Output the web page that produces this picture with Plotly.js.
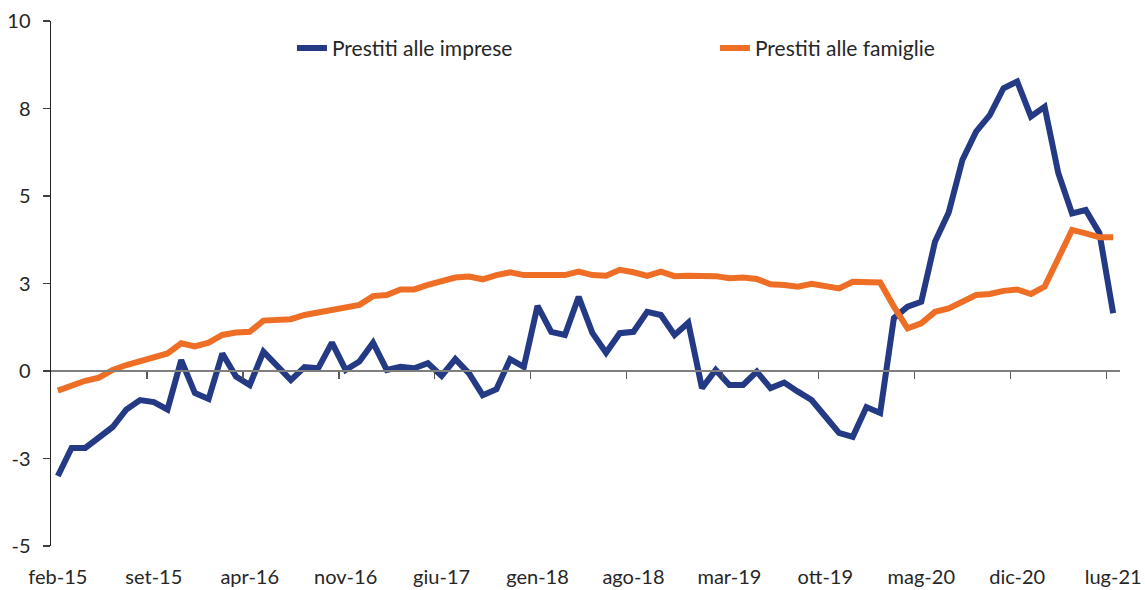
<!DOCTYPE html>
<html>
<head>
<meta charset="utf-8">
<script src="https://cdn.plot.ly/plotly-3.0.1.min.js"></script>
<style>
  html, body { margin: 0; padding: 0; background: #ffffff; }
  #chart { width: 1145px; height: 590px; }
</style>
</head>
<body>
<div id="chart"></div>
<script>
// Monthly categories feb-15 ... lug-21
const months = ['gen','feb','mar','apr','mag','giu','lug','ago','set','ott','nov','dic'];
const categories = [];
for (let y = 2015; y <= 2021; y++) {
  for (let m = 0; m < 12; m++) {
    if (y === 2015 && m < 1) continue;
    if (y === 2021 && m > 6) continue;
    categories.push(months[m] + '-' + String(y).slice(2));
  }
}

const imprese = [
  -3.0, -2.2, -2.2, -1.9, -1.6, -1.1, -0.83, -0.89, -1.1, 0.31,
  -0.63, -0.8, 0.5, -0.16, -0.4, 0.55, 0.17, -0.26, 0.11, 0.08,
  0.81, 0.03, 0.27, 0.81, 0.03, 0.12, 0.08, 0.22, -0.14, 0.34,
  -0.07, -0.69, -0.52, 0.34, 0.12, 1.86, 1.12, 1.03, 2.12, 1.09,
  0.52, 1.08, 1.12, 1.69, 1.6, 1.03, 1.38, -0.49, 0.03, -0.4,
  -0.4, -0.02, -0.49, -0.33, -0.59, -0.83, -1.3, -1.77, -1.88, -1.03,
  -1.2, 1.51, 1.84, 1.98, 3.69, 4.53, 6.03, 6.84, 7.31, 8.08,
  8.27, 7.27, 7.55, 5.65, 4.5, 4.6, 3.94, 1.65
];

const famiglie = [
  -0.56, -0.4, -0.28, -0.19, 0.03, 0.17, 0.27, 0.36, 0.5, 0.79,
  0.7, 0.81, 1.03, 1.1, 1.12, 1.44, 1.46, 1.48, 1.6, 1.67,
  1.74, 1.84, 1.89, 2.14, 2.17, 2.33, 2.33, 2.46, 2.55, 2.67,
  2.7, 2.62, 2.74, 2.82, 2.74, 2.74, 2.72, 2.74, 2.84, 2.74,
  2.72, 2.89, 2.82, 2.72, 2.84, 2.71, 2.72, 2.71, 2.71, 2.65,
  2.67, 2.63, 2.48, 2.46, 2.41, 2.49, 2.43, 2.36, 2.55, 2.53,
  2.53, 1.84, 1.22, 1.36, 1.69, 1.79, 1.98, 2.17, 2.2, 2.29,
  2.33, 2.2, 2.41, 3.22, 4.03, 3.93, 3.82, 3.82
];

const yTickVals = [-5, -2.5, 0, 2.5, 5, 7.5, 10];
const yTickText = ['-5', '-3', '0', '3', '5', '8', '10'];
const labelStep = 7;

const idx = categories.map((_, i) => i);
const labelVals = idx.filter(i => i % labelStep === 0);
const labelText = labelVals.map(i => categories[i]);
const boundaryVals = labelVals.filter(i => i > 0).map(i => i - 0.5);

const FONT = 'Lato, "Open Sans", sans-serif';
const TXT = '#262626';

const traces = [
  {
    x: idx, y: imprese, type: 'scatter', mode: 'lines',
    name: 'Prestiti alle imprese',
    line: { color: '#243A85', width: 6 },
    text: categories, hoverinfo: 'text+y'
  },
  {
    x: idx, y: famiglie, type: 'scatter', mode: 'lines',
    name: 'Prestiti alle famiglie',
    line: { color: '#EE6E25', width: 6 },
    text: categories, hoverinfo: 'text+y'
  },
  {
    x: [idx[0], idx[idx.length - 1]], y: [null, null], xaxis: 'x2',
    type: 'scatter', mode: 'lines', showlegend: false, hoverinfo: 'skip'
  }
];

const range = [-0.5, categories.length - 0.5];

const layout = {
  width: 1145, height: 590,
  margin: { l: 51, r: 25, t: 21, b: 44, autoexpand: false },
  paper_bgcolor: '#ffffff', plot_bgcolor: '#ffffff',
  font: { family: FONT, size: 20, color: TXT },
  showlegend: true,
  legend: {
    orientation: 'h', x: 0.2254, y: 0.948, xanchor: 'left', yanchor: 'middle',
    font: { family: FONT, size: 21, color: TXT },
    entrywidth: 378, entrywidthmode: 'pixels', bgcolor: 'rgba(0,0,0,0)'
  },
  xaxis: {
    range: range, anchor: 'free', position: 1/3, automargin: false,
    showgrid: false, zeroline: false,
    showline: true, linecolor: '#7f7f7f', linewidth: 2,
    tickvals: boundaryVals, ticktext: boundaryVals.map(() => ''),
    ticks: 'outside', ticklen: 7, tickwidth: 1.5, tickcolor: '#595959',
    showticklabels: false, fixedrange: true
  },
  xaxis2: {
    range: range, overlaying: 'x', anchor: 'y', side: 'bottom', automargin: false,
    showgrid: false, zeroline: false, showline: false,
    tickvals: labelVals, ticktext: labelText, ticks: '',
    ticklabelstandoff: 17,
    tickfont: { family: FONT, size: 20, color: TXT },
    fixedrange: true
  },
  yaxis: {
    range: [-5, 10], showgrid: false, zeroline: false, automargin: false,
    showline: true, linecolor: '#262626', linewidth: 1.5,
    tickvals: yTickVals, ticktext: yTickText,
    ticks: 'outside', ticklen: 7, tickwidth: 1.5, tickcolor: '#404040',
    ticklabelstandoff: 8,
    tickfont: { family: FONT, size: 20, color: TXT },
    fixedrange: true
  }
};

Plotly.newPlot('chart', traces, layout, { displayModeBar: false, staticPlot: true });
</script>
</body>
</html>
